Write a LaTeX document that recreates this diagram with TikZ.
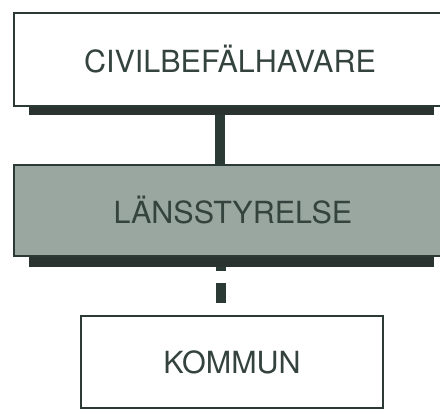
\documentclass[tikz,border=0pt]{standalone}
\usepackage{fontspec}
\setmainfont{TeX Gyre Heros}
\usetikzlibrary{calc}

\definecolor{inkc}{HTML}{34433E}
\definecolor{linec}{HTML}{2C3A35}
\definecolor{shadowc}{HTML}{2A3330}
\definecolor{greyc}{HTML}{9AA7A1}

\begin{document}
\begin{tikzpicture}[
		x={(1pt,0pt)},
		y={(0pt,-1pt)},
		box/.style={draw=linec, line width=1.8pt, inner sep=0pt, text=inkc, font=\fontsize{30.5}{36}\selectfont},
		link/.style={linec, line width=9.5pt}
	]

		\useasboundingbox (0,0) rectangle (440,410);

		% boxes
		\node[box, fill=white, minimum width=432pt, minimum height=93pt] (civil) at (230,59.5) {CIVILBEF\"ALHAVARE};
		\node[box, fill=greyc, minimum width=432pt, minimum height=91pt] (lans) at (230,210.5) {\hspace*{6pt}L\"ANSSTYRELSE};
		\node[box, fill=white, minimum width=302pt, minimum height=92pt] (kommun) at (232,362) {KOMMUN};

		% shadows
		\fill[shadowc] ([xshift=16pt]civil.south west) rectangle ([xshift=-13pt,yshift=-8pt]civil.south east);
		\fill[shadowc] ([xshift=16pt]lans.south west) rectangle ([xshift=-13pt,yshift=-10pt]lans.south east);

		% connectors
		\draw[link] ([xshift=-10pt,yshift=-8pt]civil.south) -- ([xshift=-10pt]lans.north);
		\draw[link, dash pattern=on 4pt off 12pt on 20pt off 12pt] ([xshift=-9pt,yshift=-10pt]lans.south) -- ([xshift=-11pt]kommun.north);

	\end{tikzpicture}
\end{document}
